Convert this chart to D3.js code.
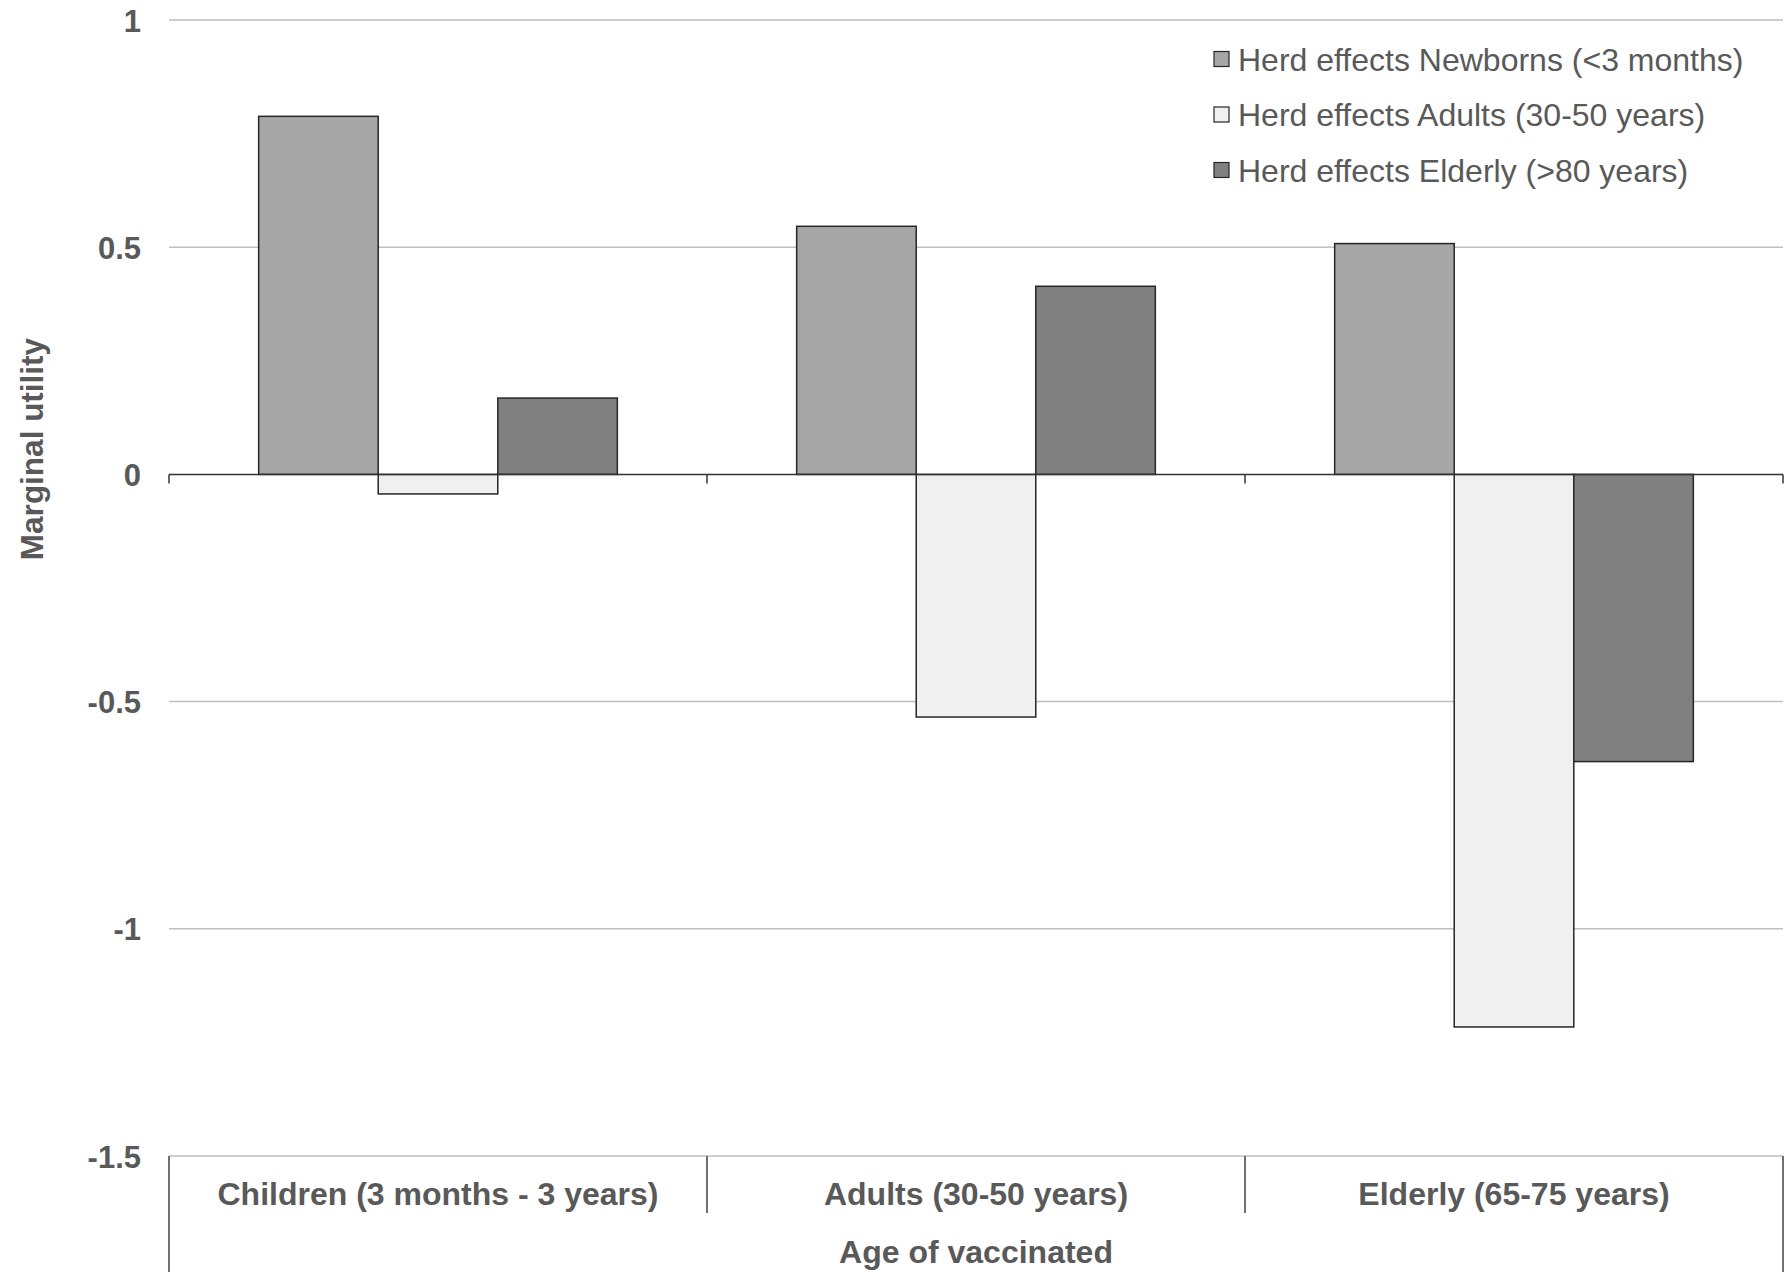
<!DOCTYPE html>
<html>
<head>
<meta charset="utf-8">
<script src="https://cdn.jsdelivr.net/npm/d3@7"></script>
<style>
  html, body { margin: 0; padding: 0; background: #ffffff; }
  svg { display: block; font-family: "Liberation Sans", Arial, sans-serif; }
</style>
</head>
<body>
<svg id="chart" width="1789" height="1272"></svg>
<script>
// Age groups that were vaccinated
const categories = ["Children (3 months - 3 years)", "Adults (30-50 years)", "Elderly (65-75 years)"];
// Herd-effect series
const seriesNames = [
  "Herd effects Newborns (<3 months)",
  "Herd effects Adults (30-50 years)",
  "Herd effects Elderly (>80 years)"
];
const newborns = [0.788, 0.546, 0.508];
const adults = [-0.043, -0.534, -1.216];
const elderly = [0.168, 0.414, -0.632];
const yTicks = [1, 0.5, 0, -0.5, -1, -1.5];
const tickLabels = ["1", "0.5", "0", "-0.5", "-1", "-1.5"];

const seriesValues = [newborns, adults, elderly];
const fills = ["#a6a6a6", "#f0f0f0", "#808080"];
const textColor = "#595959";

const svg = d3.select("#chart");
const plotLeft = 169, plotRight = 1783, plotTop = 20, plotBottom = 1156;

const y = d3.scaleLinear().domain([-1.5, 1]).range([plotBottom, plotTop]);
const x0 = d3.scaleBand().domain(categories).range([plotLeft, plotRight]).paddingInner(0).paddingOuter(0);
const x1 = d3.scaleBand().domain(d3.range(seriesNames.length)).range([0, x0.bandwidth()])
  .paddingInner(0).paddingOuter(0.75);

// Horizontal gridlines
svg.append("g").selectAll("line")
  .data(yTicks.filter(t => t !== 0))
  .join("line")
  .attr("x1", plotLeft).attr("x2", plotRight)
  .attr("y1", d => y(d)).attr("y2", d => y(d))
  .attr("stroke", "#bfbfbf").attr("stroke-width", 1.5);

// Y tick labels
const yAxis = d3.axisLeft(y).tickValues(yTicks).tickSize(0).tickPadding(0)
  .tickFormat((d, i) => tickLabels[i]);
const gy = svg.append("g").attr("transform", `translate(${plotLeft - 28},0)`).call(yAxis);
gy.select(".domain").remove();
gy.selectAll("text")
  .attr("fill", textColor)
  .style("font-size", "31px")
  .style("font-weight", "bold")
  .attr("dy", "0.36em");

// Bars
const groups = svg.append("g").selectAll("g")
  .data(categories)
  .join("g")
  .attr("transform", d => `translate(${x0(d)},0)`);

groups.selectAll("rect")
  .data((c, ci) => seriesValues.map((vals, si) => ({ si, v: vals[ci] })))
  .join("rect")
  .attr("x", d => x1(d.si))
  .attr("width", x1.bandwidth())
  .attr("y", d => y(Math.max(0, d.v)))
  .attr("height", d => Math.abs(y(d.v) - y(0)))
  .attr("fill", d => fills[d.si])
  .attr("stroke", "#262626")
  .attr("stroke-width", 1.5);

// Zero baseline with category tick marks
svg.append("line")
  .attr("x1", plotLeft).attr("x2", plotRight)
  .attr("y1", y(0)).attr("y2", y(0))
  .attr("stroke", "#333333").attr("stroke-width", 1.5);
const boundaries = categories.map(c => x0(c)).concat([plotRight]);
svg.append("g").selectAll("line")
  .data(boundaries)
  .join("line")
  .attr("x1", d => d).attr("x2", d => d)
  .attr("y1", y(0)).attr("y2", y(0) + 9)
  .attr("stroke", "#333333").attr("stroke-width", 1.5);

// Category box under the plot
svg.append("line")
  .attr("x1", plotLeft).attr("x2", plotLeft)
  .attr("y1", plotBottom).attr("y2", 1272)
  .attr("stroke", "#404040").attr("stroke-width", 1.5);
svg.append("line")
  .attr("x1", plotRight).attr("x2", plotRight)
  .attr("y1", plotBottom).attr("y2", 1272)
  .attr("stroke", "#404040").attr("stroke-width", 1.5);
svg.append("g").selectAll("line")
  .data(categories.slice(1))
  .join("line")
  .attr("x1", d => x0(d)).attr("x2", d => x0(d))
  .attr("y1", plotBottom).attr("y2", plotBottom + 57)
  .attr("stroke", "#404040").attr("stroke-width", 1.5);

svg.append("g").selectAll("text")
  .data(categories)
  .join("text")
  .attr("x", d => x0(d) + x0.bandwidth() / 2)
  .attr("y", 1193)
  .attr("dy", "0.36em")
  .attr("text-anchor", "middle")
  .attr("fill", textColor)
  .style("font-size", "32px")
  .style("font-weight", "bold")
  .text(d => d);

// Axis titles
svg.append("text")
  .attr("x", (plotLeft + plotRight) / 2)
  .attr("y", 1251)
  .attr("dy", "0.36em")
  .attr("text-anchor", "middle")
  .attr("fill", textColor)
  .style("font-size", "32px")
  .style("font-weight", "bold")
  .text("Age of vaccinated");

svg.append("text")
  .attr("transform", "translate(32,449) rotate(-90)")
  .attr("dy", "0.36em")
  .attr("text-anchor", "middle")
  .attr("fill", textColor)
  .style("font-size", "31.5px")
  .style("font-weight", "bold")
  .text("Marginal utility");

// Legend
const legend = svg.append("g").selectAll("g")
  .data(seriesNames)
  .join("g")
  .attr("transform", (d, i) => `translate(1214,${59 + i * 55.5})`);
legend.append("rect")
  .attr("x", 0).attr("y", -7.5)
  .attr("width", 15).attr("height", 15)
  .attr("fill", (d, i) => fills[i])
  .attr("stroke", "#262626").attr("stroke-width", 1.2);
legend.append("text")
  .attr("x", 24).attr("y", 0)
  .attr("dy", "0.36em")
  .attr("fill", textColor)
  .style("font-size", "32px")
  .text(d => d);
</script>
</body>
</html>
